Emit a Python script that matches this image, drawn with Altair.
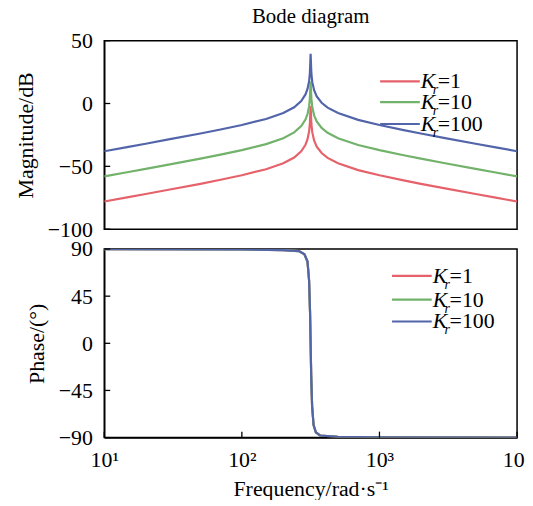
import altair as alt
import pandas as pd

# ---- data ----
freq = [10, 15, 20, 30, 50, 70, 100, 150, 200, 240, 270, 290, 300, 308, 312, 316,
        320, 325, 335, 350, 380, 420, 500, 700, 1000, 1500, 2000, 3000, 5000, 7000, 10000]
mag_kr1 = [-78.0, -74.5, -72.0, -68.4, -63.9, -60.7, -57.1, -52.3, -47.6, -43.0, -38.0,
           -32.8, -28.4, -22.3, -16.2, -2.0, -16.1, -23.0, -29.4, -34.3, -39.4, -43.3,
           -47.6, -53.0, -57.1, -61.2, -63.9, -67.5, -72.0, -74.9, -78.0]
mag_kr10 = [-58.0, -54.5, -52.0, -48.4, -43.9, -40.7, -37.1, -32.3, -27.6, -23.0, -18.0,
            -12.8, -8.4, -2.3, 3.8, 17.5, 3.9, -3.0, -9.4, -14.3, -19.4, -23.3,
            -27.6, -33.0, -37.1, -41.2, -43.9, -47.5, -52.0, -54.9, -58.0]
mag_kr100 = [-38.0, -34.5, -32.0, -28.4, -23.9, -20.7, -17.1, -12.3, -7.6, -3.0, 2.0,
             7.2, 11.6, 17.7, 23.8, 39.5, 23.9, 17.0, 10.6, 5.7, 0.6, -3.3,
             -7.6, -13.0, -17.1, -21.2, -23.9, -27.5, -32.0, -34.9, -38.0]

phase_freq = [10, 100, 200, 260, 285, 300, 308, 313, 316, 319, 324, 332, 345, 370, 500, 1000, 10000]
phase_kr1 = [90, 89.6, 89.0, 88.0, 85.0, 78.0, 60.0, 30.0, 0.0, -30.0, -60.0, -78.0, -85.0, -88.0, -89.3, -89.8, -90]
phase_kr10 = list(phase_kr1)
phase_kr100 = list(phase_kr1)

series = ["Kr=1", "Kr=10", "Kr=100"]
legend_nums = ["1", "10", "100"]
colors = ["#e6626b", "#72b26a", "#5365aa"]

mag_ticks = [50, 0, -50, -100]
phase_ticks = [90, 45, 0, -45, -90]
freq_ticks = [10, 100, 1000, 10000]
freq_labels = ["10¹", "10²", "10³", "10⁴"]

FONT = "Liberation Serif"
W, H = 416, 190

mag_df = pd.concat([
    pd.DataFrame({"f": freq, "v": m, "s": s, "o": i})
    for i, (m, s) in enumerate(zip([mag_kr1, mag_kr10, mag_kr100], series))
])
ph_df = pd.concat([
    pd.DataFrame({"f": phase_freq, "v": p, "s": s, "o": i})
    for i, (p, s) in enumerate(zip([phase_kr1, phase_kr10, phase_kr100], series))
])

xscale = alt.Scale(type="log", domain=[10, 10000], nice=False)
cscale = alt.Scale(domain=series, range=colors)

label_expr = " : ".join(
    f"datum.value == {v} ? '{l}'" for v, l in zip(freq_ticks, freq_labels)
) + " : ''"


def lines(df, ydomain, yticks, ytitle, show_x):
    yscale = alt.Scale(domain=ydomain, nice=False, zero=False)
    if show_x:
        xenc = alt.X("f:Q", scale=xscale,
                     axis=alt.Axis(values=freq_ticks, labelExpr=label_expr, ticks=False,
                                   title="Frequency/rad·s⁻¹", labelPadding=12,
                                   titlePadding=8, labelFlush=False))
    else:
        xenc = alt.X("f:Q", scale=xscale, axis=None)
    base = alt.Chart(df).mark_line(strokeWidth=2.2, clip=True).encode(
        x=xenc,
        y=alt.Y("v:Q", scale=yscale,
                axis=alt.Axis(values=yticks, ticks=False, title=ytitle, labelPadding=12,
                              titlePadding=10, format="d")),
        color=alt.Color("s:N", scale=cscale, legend=None),
        order="o:Q",
        detail="s:N",
    )
    yt = alt.Chart(pd.DataFrame({"v": yticks})).mark_rule(color="black", strokeWidth=1.3).encode(
        y=alt.Y("v:Q", scale=yscale), x=alt.value(0), x2=alt.value(6))
    layers = [base, yt]
    if show_x:
        xt = alt.Chart(pd.DataFrame({"f": freq_ticks})).mark_rule(color="black", strokeWidth=1.3).encode(
            x=alt.X("f:Q", scale=xscale), y=alt.value(H), y2=alt.value(H - 6))
        layers.append(xt)
    return layers


def legend(x0, ys):
    out = []
    for num, col, y in zip(legend_nums, colors, ys):
        d = pd.DataFrame({"k": ["=" + num]})
        out.append(alt.Chart(d).mark_rule(color=col, strokeWidth=2.2).encode(
            x=alt.value(x0), x2=alt.value(x0 + 40), y=alt.value(y)))
        out.append(alt.Chart(d).mark_text(font=FONT, fontSize=22, fontStyle="italic",
                                          align="left", baseline="middle", color="black").encode(
            x=alt.value(x0 + 41), y=alt.value(y), text=alt.value("K")))
        out.append(alt.Chart(d).mark_text(font=FONT, fontSize=14, fontStyle="italic",
                                          align="left", baseline="middle", color="black").encode(
            x=alt.value(x0 + 53), y=alt.value(y + 9), text=alt.value("r")))
        out.append(alt.Chart(d).mark_text(font=FONT, fontSize=22,
                                          align="left", baseline="middle", color="black").encode(
            x=alt.value(x0 + 58), y=alt.value(y), text="k:N"))
    return out


top = alt.layer(
    *lines(mag_df, [-100, 50], mag_ticks, "Magnitude/dB", False),
    *legend(278, [41, 62, 84]),
).properties(width=W, height=H, title=alt.Title("Bode diagram", font=FONT, fontSize=21,
                                                 fontWeight="normal", offset=3, color="black"))

bottom = alt.layer(
    *lines(ph_df, [-90, 90], phase_ticks, "Phase/(°)", True),
    *legend(290, [27, 51, 73]),
).properties(width=W, height=H)

chart = alt.vconcat(top, bottom, spacing=-4).configure(
    padding={"left": 5, "right": -8, "top": -5, "bottom": -2}
).configure_view(
    stroke="black", strokeWidth=1.5
).configure_axis(
    labelFont=FONT, titleFont=FONT, labelFontSize=22, titleFontSize=22,
    labelColor="black", titleColor="black", titleFontWeight="normal",
    domainColor="black", domainWidth=1.5, grid=False,
)

chart.save("out.html", embed_options={"renderer": "svg", "actions": False})
